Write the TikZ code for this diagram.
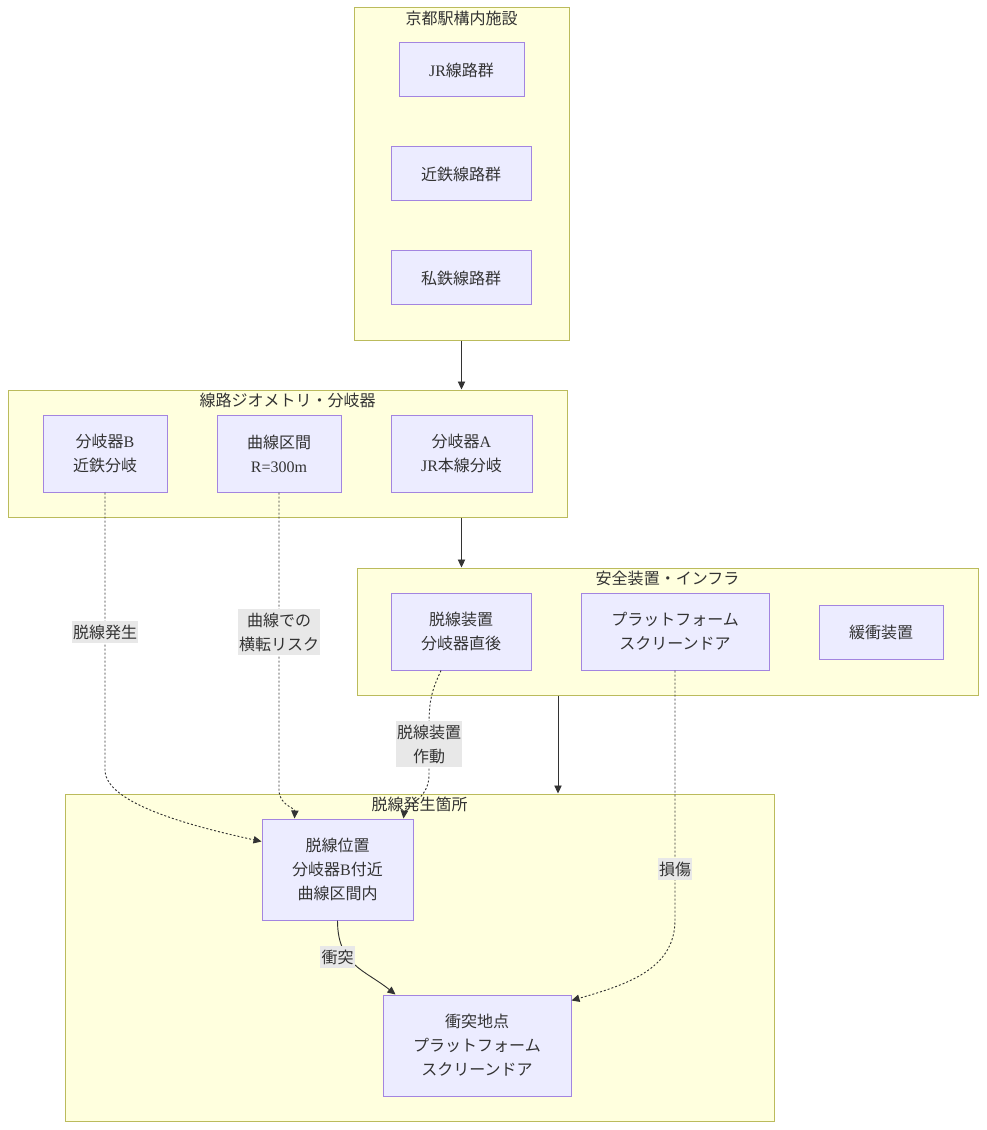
\documentclass[tikz,border=0pt]{standalone}
\usepackage{fontspec}
\setmainfont{Liberation Serif}
\newfontfamily\cjk{Noto Sans CJK JP}
\newcommand\jp[1]{{\cjk #1}}
\usetikzlibrary{arrows.meta,calc}
\definecolor{clfill}{HTML}{FFFFDE}
\definecolor{cldraw}{HTML}{AAAA33}
\definecolor{ndfill}{HTML}{ECECFF}
\definecolor{nddraw}{HTML}{9370DB}
\definecolor{txt}{HTML}{333333}
\definecolor{lblbg}{HTML}{E8E8E8}
\tikzset{
  cluster/.style={draw=cldraw!80!white,fill=clfill,line width=0.75pt,inner sep=0pt},
  box/.style={draw=nddraw!85!white,fill=ndfill,line width=0.75pt,inner sep=0pt,align=center,text=txt,font=\fontsize{12pt}{18pt}\selectfont},
  ctitle/.style={text=txt,font=\fontsize{12pt}{18pt}\selectfont,inner sep=0pt},
  elabel/.style={fill=lblbg,text=txt,align=center,inner xsep=1pt,inner ysep=2.5pt,font=\fontsize{12pt}{18pt}\selectfont},
  edge/.style={draw=txt,line width=0.7pt,-{Triangle[length=6pt,width=5.5pt]}},
  dotedge/.style={edge,dash pattern=on 1.5pt off 1.5pt}
}
\begin{document}
\begin{tikzpicture}[x=0.75pt,y=-0.75pt]
\useasboundingbox (0,0) rectangle (986,1130);
% clusters
\node[cluster,minimum width=161.25pt,minimum height=249pt] (c1) at (461.5,174) {};
\node[cluster,minimum width=419.25pt,minimum height=95.25pt] (c2) at (287.5,453.5) {};
\node[cluster,minimum width=465.75pt,minimum height=95.25pt] (c3) at (667.5,631.5) {};
\node[cluster,minimum width=531.75pt,minimum height=245.25pt] (c4) at (419.5,957.5) {};
\node[ctitle] (t1) at ([yshift=-8.5pt]c1.north) {\jp{京都駅構内施設}};
\node[ctitle] (t2) at ([yshift=-8.5pt]c2.north) {\jp{線路ジオメトリ・分岐器}};
\node[ctitle] (t3) at ([yshift=-8.5pt]c3.north) {\jp{安全装置・インフラ}};
\node[ctitle] (t4) at ([yshift=-8.5pt]c4.north) {\jp{脱線発生箇所}};
% nodes
\node[box,minimum width=93.75pt,minimum height=40.5pt] (jr) at (461.5,70) {JR\jp{線路群}};
\node[box,minimum width=105pt,minimum height=40.5pt] (kt) at (461,174) {\jp{近鉄線路群}};
\node[box,minimum width=105pt,minimum height=40.5pt] (st) at (461,278) {\jp{私鉄線路群}};
\node[box,minimum width=93pt,minimum height=57.75pt] (nB) at (105,453.5) {\jp{分岐器}B\\\jp{近鉄分岐}};
\node[box,minimum width=93pt,minimum height=57.75pt] (cv) at (279,453.5) {\jp{曲線区間}\\R=300m};
\node[box,minimum width=105.75pt,minimum height=57.75pt] (nA) at (461.5,453.5) {\jp{分岐器}A\\JR\jp{本線分岐}};
\node[box,minimum width=105pt,minimum height=57.75pt] (dd) at (461,631.5) {\jp{脱線装置}\\\jp{分岐器直後}};
\node[box,minimum width=141pt,minimum height=57.75pt] (pf) at (675,631.5) {\jp{プラットフォーム}\\\jp{スクリーンドア}};
\node[box,minimum width=93pt,minimum height=40.5pt] (bf) at (881,632) {\jp{緩衝装置}};
\node[box,minimum width=113.25pt,minimum height=75.75pt] (dp) at (337.5,869.5) {\jp{脱線位置}\\\jp{分岐器}B\jp{付近}\\\jp{曲線区間内}};
\node[box,minimum width=141pt,minimum height=75.75pt] (cp) at (477,1045.5) {\jp{衝突地点}\\\jp{プラットフォーム}\\\jp{スクリーンドア}};
% cluster links
\coordinate (k) at (558,0);
\draw[edge] (c1.south -| jr) -- (jr |- c2.north);
\draw[edge] (nA |- c2.south) -- (nA |- c3.north);
\draw[edge] (k |- c3.south) -- (k |- c4.north);
% edges
\draw[dotedge] (nB.south) -- (105,770) .. controls (105,805) and (200,828) .. ([yshift=-17.25pt]dp.north west);
\node[elabel] (l1) at (105,632) {\jp{脱線発生}};
\draw[dotedge] (cv.south) -- (279,790) .. controls (279,805) and (295,808) .. ([xshift=24.75pt]dp.north west);
\node[elabel] (l2) at (279,632) {\jp{曲線での}\\\jp{横転リスク}};
\draw[dotedge] ([xshift=-15pt]dd.south) .. controls (432,690) and (429,700) .. (429,725) -- (429,775) .. controls (429,800) and (405,805) .. ([xshift=-7.5pt]dp.north east);
\node[elabel] (l3) at (429,744) {\jp{脱線装置}\\\jp{作動}};
\draw[edge] (dp.south) .. controls (337.5,965) and (365,970) .. ([xshift=9.75pt]cp.north west);
\node[elabel] (l4) at (337.5,957) {\jp{衝突}};
\draw[dotedge] (pf.south) -- (675,920) .. controls (675,970) and (625,985) .. ([yshift=-4.5pt]cp.north east);
\node[elabel] (l5) at (675,869) {\jp{損傷}};
\end{tikzpicture}
\end{document}
